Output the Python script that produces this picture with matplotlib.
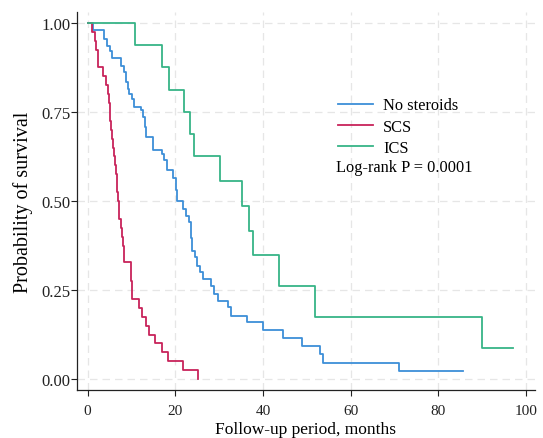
import matplotlib
matplotlib.use("Agg")
import matplotlib.pyplot as plt

plt.rcParams['font.family'] = ['Liberation Serif', 'DejaVu Serif']

# Kaplan-Meier step points (time in months, survival)
ns_time = [0, 1.3, 3.8, 4.4, 5.1, 5.6, 7.6, 8.2, 8.7, 9.1, 9.5, 10.2, 10.6, 12.1, 12.7,
           13.0, 13.3, 14.8, 17.0, 17.4, 18.0, 19.5, 20.1, 20.4, 21.8, 22.4, 23.2, 23.5,
           23.6, 23.7, 24.5, 25.0, 25.7, 26.4, 28.1, 28.8, 29.8, 32.1, 32.8, 36.3, 39.9,
           44.5, 49.0, 53.0, 53.6, 71.0, 85.6]
ns_surv = [1.0, 0.98, 0.955, 0.935, 0.92, 0.90, 0.88, 0.862, 0.834, 0.815, 0.80, 0.787,
           0.764, 0.755, 0.736, 0.708, 0.68, 0.642, 0.633, 0.614, 0.586, 0.565, 0.53, 0.50,
           0.478, 0.459, 0.44, 0.417, 0.395, 0.36, 0.342, 0.318, 0.30, 0.281, 0.262, 0.239,
           0.22, 0.201, 0.178, 0.159, 0.138, 0.114, 0.092, 0.07, 0.045, 0.022, 0.022]

scs_time = [0, 1.1, 1.6, 2.0, 2.4, 3.5, 4.3, 4.6, 4.9, 5.0, 5.2, 5.3, 5.6, 5.8, 6.0, 6.2,
            6.4, 6.6, 6.8, 7.0, 7.2, 7.5, 7.9, 8.1, 8.4, 9.9, 10.0, 10.1, 10.2, 11.8, 12.3,
            13.3, 14.1, 15.4, 16.9, 18.4, 21.7, 25.2]
scs_surv = [1.0, 0.975, 0.95, 0.925, 0.875, 0.85, 0.825, 0.80, 0.775, 0.75, 0.725, 0.70,
            0.675, 0.65, 0.625, 0.60, 0.575, 0.55, 0.525, 0.50, 0.45, 0.425, 0.40, 0.375,
            0.33, 0.30, 0.275, 0.25, 0.225, 0.20, 0.175, 0.15, 0.125, 0.10, 0.075, 0.05,
            0.025, 0.0]

ics_time = [0, 10.9, 16.9, 18.6, 22.0, 23.3, 24.3, 30.2, 35.1, 36.8, 37.8, 43.6, 51.8, 90.0, 97.0]
ics_surv = [1.0, 0.9375, 0.875, 0.8125, 0.75, 0.6875, 0.625, 0.5556, 0.4861, 0.4167,
            0.3472, 0.2604, 0.1736, 0.0868, 0.0868]

x_ticks = [0, 20, 40, 60, 80, 100]
y_ticks = [0.0, 0.25, 0.5, 0.75, 1.0]

fig = plt.figure(figsize=(5.43, 4.39), dpi=100)
ax = fig.add_axes([0.142, 0.109, 0.843, 0.861])

ax.step(ns_time, ns_surv, where='post', color='#3d8fd8', lw=1.3, label='No steroids')
ax.step(scs_time, scs_surv, where='post', color='#c8235a', lw=1.3, label='SCS')
ax.step(ics_time, ics_surv, where='post', color='#37b487', lw=1.3, label='ICS')

ax.set_xlim(-2.4, 102)
ax.set_ylim(-0.031, 1.03)
ax.set_xticks(x_ticks)
ax.set_yticks(y_ticks)
ax.set_yticklabels(['%.2f' % v for v in y_ticks])
ax.tick_params(length=4, width=0.8, colors='#222222')
ax.tick_params(axis='x', labelsize=11, pad=6)
ax.tick_params(axis='y', labelsize=12, pad=1)
ax.grid(True, ls=(0, (6, 4)), color='#e6e6e6', lw=0.9)
ax.set_axisbelow(True)
for s in ['top', 'right']:
    ax.spines[s].set_visible(False)
for s in ['left', 'bottom']:
    ax.spines[s].set_color('#222222')
    ax.spines[s].set_linewidth(0.9)

ax.set_xlabel('Follow-up period, months', fontsize=12.5, labelpad=3)
ax.set_ylabel('Probability of survival', fontsize=14.5, labelpad=6)

ax.legend(loc='upper left', bbox_to_anchor=(0.545, 0.805), frameon=False, fontsize=11.8,
          handlelength=2.13, handletextpad=0.61, labelspacing=0.32, borderpad=0.2)
ax.text(0.566, 0.591, 'Log-rank P = 0.0001', transform=ax.transAxes, fontsize=11.8,
        va='center', ha='left')

fig.savefig('out.png', dpi=100)
